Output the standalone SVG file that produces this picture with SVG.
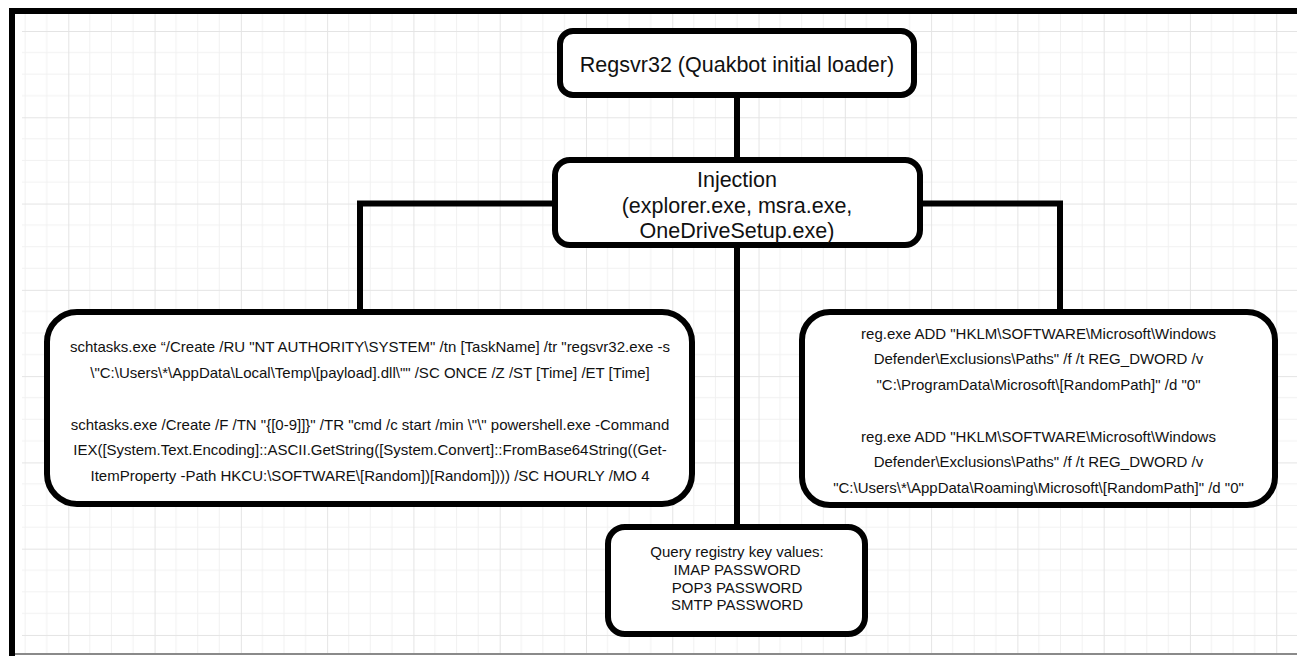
<svg xmlns="http://www.w3.org/2000/svg" width="1297" height="656" viewBox="0 0 1297 656">
  <defs>
    <pattern id="grid" patternUnits="userSpaceOnUse" x="68.3" y="31" width="86.28" height="86.28">
      <path d="M21.57 0V86.28M43.14 0V86.28M64.71 0V86.28M0 21.57H86.28M0 43.14H86.28M0 64.71H86.28" stroke="#f1f1f1" stroke-width="1" fill="none"/>
      <path d="M0.5 0V86.28M0 0.5H86.28" stroke="#e4e4e4" stroke-width="1" fill="none"/>
    </pattern>
    <style>
      .node { fill: #ffffff; stroke: #000000; stroke-width: 6; }
      .conn { fill: none; stroke: #000000; stroke-width: 6; stroke-linejoin: miter; }
      .t { font-family: "Liberation Sans", Arial, sans-serif; fill: #111111; text-anchor: middle; }
      .big { font-size: 21.5px; }
      .small { font-size: 15px; }
    </style>
  </defs>

  <rect x="0" y="0" width="1297" height="656" fill="#ffffff"/>
  <rect x="22" y="14" width="1275" height="640" fill="url(#grid)"/>
  <rect x="15" y="653" width="1282" height="2" fill="#8a8a8a"/>
  <rect x="9" y="8" width="1288" height="6" fill="#000000"/>
  <rect x="9" y="8" width="6" height="648" fill="#000000"/>

  <g id="connectors">
    <path class="conn" d="M737 95V160"/>
    <path class="conn" d="M555 203.5H360V312"/>
    <path class="conn" d="M920 203.5H1060V312"/>
    <path class="conn" d="M737 245V527"/>
  </g>

  <g id="node-regsvr32">
    <rect class="node" x="560" y="31" width="354" height="64" rx="13"/>
    <text class="t big" x="737" y="71.5">Regsvr32 (Quakbot initial loader)</text>
  </g>

  <g id="node-injection">
    <rect class="node" x="555" y="160" width="365" height="85" rx="15"/>
    <text class="t big" x="737" y="187">Injection</text>
    <text class="t big" x="737" y="213">(explorer.exe, msra.exe,</text>
    <text class="t big" x="737" y="238">OneDriveSetup.exe)</text>
  </g>

  <g id="node-schtasks">
    <rect class="node" x="47" y="312" width="645" height="192" rx="30"/>
    <text class="t small" x="370" y="352">schtasks.exe “/Create /RU "NT AUTHORITY\SYSTEM" /tn [TaskName] /tr "regsvr32.exe -s</text>
    <text class="t small" x="370" y="377.5">\"C:\Users\*\AppData\Local\Temp\[payload].dll\"" /SC ONCE /Z /ST [Time] /ET [Time]</text>
    <text class="t small" x="370" y="429.5">schtasks.exe /Create /F /TN "{[0-9]]}" /TR "cmd /c start /min \"\" powershell.exe -Command</text>
    <text class="t small" x="370" y="455">IEX([System.Text.Encoding]::ASCII.GetString([System.Convert]::FromBase64String((Get-</text>
    <text class="t small" x="370" y="480.5">ItemProperty -Path HKCU:\SOFTWARE\[Random])[Random]))) /SC HOURLY /MO 4</text>
  </g>

  <g id="node-regexe">
    <rect class="node" x="802" y="312" width="473" height="193" rx="28"/>
    <text class="t small" x="1038.5" y="338.5">reg.exe ADD "HKLM\SOFTWARE\Microsoft\Windows</text>
    <text class="t small" x="1038.5" y="364">Defender\Exclusions\Paths" /f /t REG_DWORD /v</text>
    <text class="t small" x="1038.5" y="389.5">"C:\ProgramData\Microsoft\[RandomPath]" /d "0"</text>
    <text class="t small" x="1038.5" y="441.5">reg.exe ADD "HKLM\SOFTWARE\Microsoft\Windows</text>
    <text class="t small" x="1038.5" y="467">Defender\Exclusions\Paths" /f /t REG_DWORD /v</text>
    <text class="t small" x="1038.5" y="492.5">"C:\Users\*\AppData\Roaming\Microsoft\[RandomPath]" /d "0"</text>
  </g>

  <g id="node-query">
    <rect class="node" x="608" y="527" width="257" height="107" rx="17"/>
    <text class="t small" x="737" y="557">Query registry key values:</text>
    <text class="t small" x="737" y="575">IMAP PASSWORD</text>
    <text class="t small" x="737" y="592.5">POP3 PASSWORD</text>
    <text class="t small" x="737" y="610">SMTP PASSWORD</text>
  </g>
</svg>
